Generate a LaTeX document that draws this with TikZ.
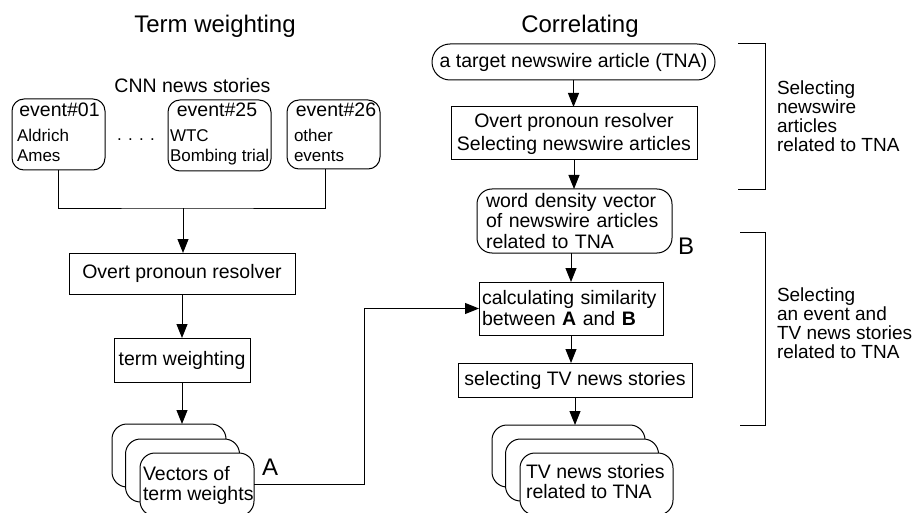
\documentclass[tikz,border=0pt]{standalone}
\usepackage{fontspec}
\setmainfont{Liberation Sans}
\usetikzlibrary{arrows.meta,shapes.misc,calc}
\begin{document}
\begin{tikzpicture}[x=1pt,y=-1pt,line width=1pt,
  every node/.style={inner sep=0pt,outer sep=0pt},
  f/.style={font=\fontsize{19.5}{21}\selectfont},
  fs/.style={font=\fontsize{17}{21}\selectfont},
  fb/.style={font=\fontsize{24}{28}\selectfont},
  lab/.style={font=\fontsize{19}{20}\selectfont,anchor=base west},
  sqbox/.style={draw,rectangle,f},
  evbox/.style={draw,rectangle,rounded corners=12pt},
  card/.style={draw,fill=white,rectangle,rounded corners=15pt},
  arr/.style={-{Triangle[length=14pt,width=11pt]}}
]
\useasboundingbox (0,0) rectangle (915,513);

% titles
\node[fb,anchor=base] (t1) at (215,33) {Term weighting};
\node[fb,anchor=base] (t2) at (580,33) {Correlating};

% ---------- left column ----------
\node[f,anchor=base] (cnn) at (192.5,93) {CNN news stories};

\node[evbox,minimum width=93pt,minimum height=71pt] (ev1) at (58.5,134.5) {};
\node[f,anchor=base] (ev1h) at (59.5,117) {event\#01};
\node[fs,anchor=base west] (ev1a) at (17,142) {Aldrich};
\node[fs,anchor=base west] (ev1b) at (17,162) {Ames};

\node[fs,anchor=base] (dots) at (136,141) {. . . .};

\node[evbox,minimum width=103pt,minimum height=71pt] (ev25) at (219.5,135.5) {};
\node[f,anchor=base] (ev25h) at (217,117) {event\#25};
\node[fs,anchor=base west] (ev25a) at (170,142) {WTC};
\node[fs,anchor=base west] (ev25b) at (170,162) {Bombing trial};

\node[evbox,minimum width=93pt,minimum height=69pt] (ev26) at (333.5,134.5) {};
\node[f,anchor=base] (ev26h) at (336,117) {event\#26};
\node[fs,anchor=base west] (ev26a) at (294,142) {other};
\node[fs,anchor=base west] (ev26b) at (294,162) {events};

\coordinate (j) at (183,208);
\draw (ev1.south) |- (j) -| ([xshift=-8.5pt]ev26.south);

\node[sqbox,minimum width=226pt,minimum height=41pt] (opr) at (182,273.5) {Overt pronoun resolver};
\draw[arr] (j) -- (j |- opr.north);

\node[sqbox,minimum width=136pt,minimum height=44pt] (tw) at (182,360) {term weighting};
\draw[arr] (opr.south) -- (opr.south |- tw.north);

\node[card,minimum width=114pt,minimum height=63pt] (lc1) at (169,455.5) {};
\node[card,minimum width=114pt,minimum height=63pt] (lc2) at (182.5,470.5) {};
\node[card,minimum width=114pt,minimum height=63pt] (lc3) at (197,484.5) {};
\node[f,anchor=base west] (lc3a) at (143,480) {Vectors of};
\node[f,anchor=base west] (lc3b) at (143,500) {term weights};
\draw[arr] (tw.south) -- (tw.south |- lc1.north);
\node[fb,anchor=base west] (A) at (262,475) {A};

% ---------- right column ----------
\node[draw,rounded rectangle,minimum width=283pt,minimum height=36pt,f] (tna) at (573.5,62) {a target newswire article (TNA)};

\node[sqbox,align=center,font=\fontsize{19.5}{23}\selectfont,minimum width=246pt,minimum height=53pt] (sel) at (574,133.5) {Overt pronoun resolver\\Selecting newswire articles};
\draw[arr] (tna.south) -- (tna.south |- sel.north);

\node[draw,rounded corners=15pt,align=left,text width=177pt,inner xsep=9pt,minimum height=64pt,font=\fontsize{19.5}{20.5}\selectfont] (wdv) at (574.5,221) {word density vector\\of newswire articles\\related to TNA};
\draw[arr] (sel.south) -- (sel.south |- wdv.north);
\node[fb,anchor=base west] (B) at (678,254) {B};

\node[sqbox,align=left,text width=178pt,inner xsep=3pt,minimum height=53pt] (calc) at (571,308.5) {calculating similarity\\between \textbf{A} and \textbf{B}};
\draw[arr] (wdv.south -| calc.north) -- (calc.north);

\coordinate (k) at (364,308.5);
\draw[arr] (lc3.east) -| (k) -- (calc.west);

\node[sqbox,minimum width=234pt,minimum height=34pt] (stv) at (575,380) {selecting TV news stories};
\draw[arr] (calc.south) -- (calc.south |- stv.north);

\node[card,minimum width=153pt,minimum height=62pt] (rc1) at (568.5,456) {};
\node[card,minimum width=153pt,minimum height=62pt] (rc2) at (582,470) {};
\node[card,minimum width=153pt,minimum height=62pt] (rc3) at (596.5,484) {};
\node[f,anchor=base west] (rc3a) at (526,478) {TV news stories};
\node[f,anchor=base west] (rc3b) at (526,498) {related to TNA};
\draw[arr] (stv.south) -- (stv.south |- rc1.north);

% ---------- brackets ----------
\coordinate (b1a) at (738,44);
\coordinate (b1b) at (738,190);
\draw (b1a) -- (765,44) -- (765,190) -- (b1b);
\coordinate (b2a) at (740,232);
\coordinate (b2b) at (740,425);
\draw (b2a) -- (765,232) -- (765,425) -- (b2b);

\node[lab] (l1a) at (777,95) {Selecting};
\node[lab] (l1b) at (777,114) {newswire};
\node[lab] (l1c) at (777,133) {articles};
\node[lab] (l1d) at (777,152) {related to TNA};

\node[lab] (l2a) at (777,301) {Selecting};
\node[lab] (l2b) at (777,320) {an event and};
\node[lab] (l2c) at (777,339) {TV news stories};
\node[lab] (l2d) at (777,358) {related to TNA};
\end{tikzpicture}
\end{document}
